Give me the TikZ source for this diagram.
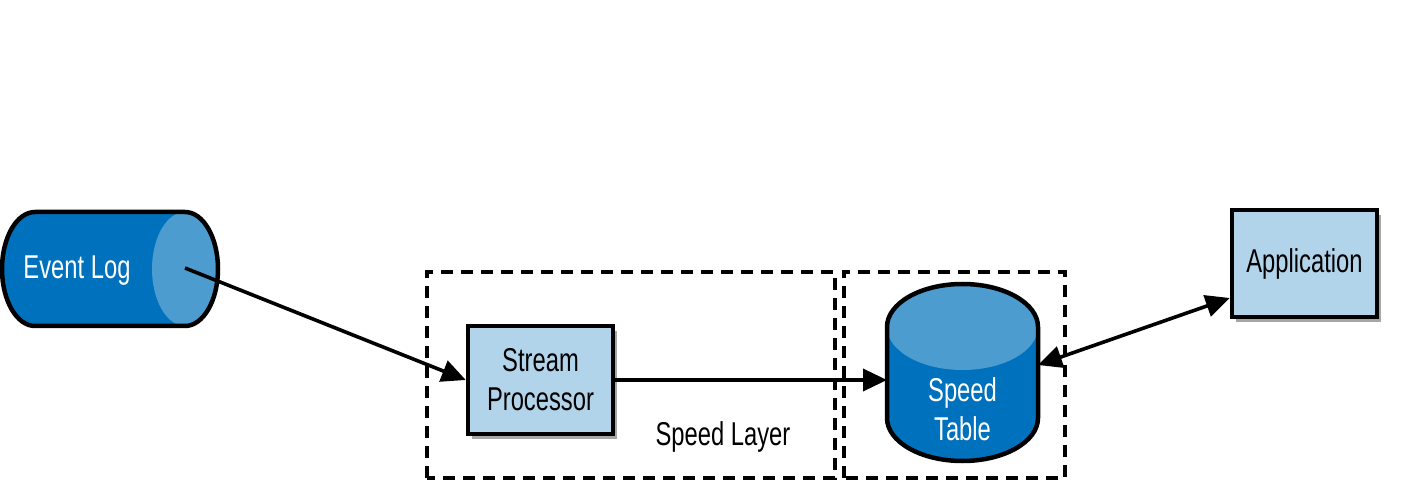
\documentclass[tikz,border=0pt]{standalone}
\usepackage{fontspec}
\setmainfont[FakeStretch=0.72]{Liberation Sans}
\usetikzlibrary{arrows.meta,shadows}
\definecolor{darkblue}{HTML}{0071BC}
\definecolor{midblue}{HTML}{4C9CD0}
\definecolor{boxblue}{HTML}{B2D4EB}
\begin{document}
\begin{tikzpicture}[x=1pt,y=1pt,
  lbl/.style={font=\fontsize{33}{39}\selectfont, align=center, inner sep=0pt},
  procbox/.style={draw=black, line width=4.5pt, fill=boxblue, minimum width=145pt, minimum height=108pt,
     inner sep=0pt, lbl, drop shadow={shadow xshift=4pt, shadow yshift=-5pt, opacity=0.35, fill=black}},
  layerbox/.style={draw=black, line width=3.8pt, dash pattern=on 12pt off 8pt},
  conn/.style={line width=3.6pt, -{Triangle[length=24pt,width=22pt]}},
  outline/.style={draw=black, line width=4.5pt}
]
\useasboundingbox (0,0) rectangle (1403,482);

% dashed layer boxes
\draw[layerbox] (427,4) rectangle (835,210);
\draw[layerbox] (844,4) rectangle (1065,210);

% Event Log cylinder (horizontal)
\fill[darkblue] (35,270) -- (185,270) arc[start angle=90,end angle=-90,x radius=33,y radius=57] -- (35,156) arc[start angle=270,end angle=90,x radius=33,y radius=57] -- cycle;
\fill[midblue] (185,213) ellipse[x radius=33,y radius=57];
\draw[outline] (35,270) -- (185,270) arc[start angle=90,end angle=-90,x radius=33,y radius=57] -- (35,156) arc[start angle=270,end angle=90,x radius=33,y radius=57] -- cycle;
\coordinate (elc) at (185,214);
\node[lbl, text=white] (eltext) at (77,211) {Event Log};

% Speed Table cylinder (vertical)
\fill[darkblue] (887,155) -- (887,64) arc[start angle=180,end angle=360,x radius=75.5,y radius=43] -- (1038,155) arc[start angle=0,end angle=180,x radius=75.5,y radius=43] -- cycle;
\fill[midblue] (962.5,155) ellipse[x radius=75.5,y radius=43];
\draw[outline] (887,155) -- (887,64) arc[start angle=180,end angle=360,x radius=75.5,y radius=43] -- (1038,155) arc[start angle=0,end angle=180,x radius=75.5,y radius=43] -- cycle;
\coordinate (stw) at (887,102);
\coordinate (ste) at (1038,117);
\node[lbl, text=white] (sttext) at (962.5,73) {Speed\\Table};

% boxes
\node[procbox] (sp) at (540.5,102) {Stream\\Processor};
\node[procbox, minimum height=107pt] (app) at (1304.5,218.5) {Application};

\node[lbl] (sl) at (723,45) {Speed Layer};

% connectors
\draw[conn] (elc) -- (sp.west);
\draw[conn] (sp.east) -- (stw);
\draw[conn, {Triangle[length=24pt,width=22pt]}-{Triangle[length=24pt,width=22pt]}] (ste) -- (app.west |- 0,184);
\end{tikzpicture}
\end{document}
